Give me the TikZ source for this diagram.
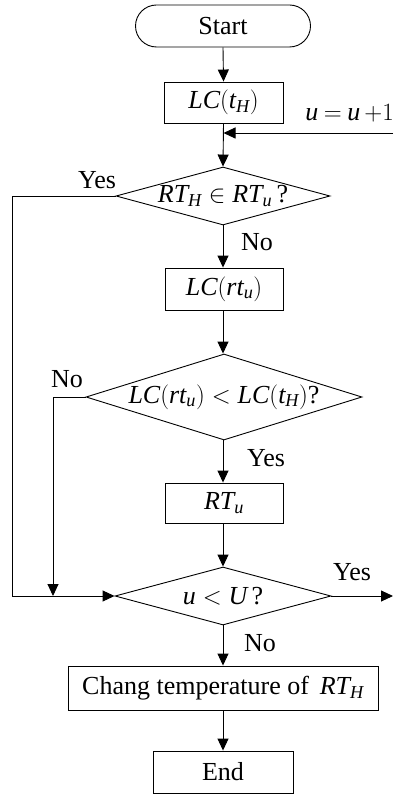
\documentclass[tikz,border=0pt]{standalone}
\usepackage{amsmath}
\usepackage{fontspec}
\setmainfont{Liberation Serif}
\usetikzlibrary{shapes.geometric,shapes.misc,arrows.meta}
\newcommand{\vv}[1]{\textit{#1}}
\tikzset{
  box/.style={draw,rectangle,inner sep=0pt,line width=0.9pt},
  term/.style={draw,rounded rectangle,inner sep=0pt,line width=0.9pt,minimum width=175pt,minimum height=42pt},
  dec/.style={draw,diamond,inner sep=0pt,line width=0.9pt},
  conn/.style={line width=0.9pt,-{Triangle[length=12pt,width=11pt]}},
  lbl/.style={inner sep=0pt}
}
\begin{document}
\begin{tikzpicture}[x=1pt,y=-1pt,font=\fontsize{26}{31}\selectfont]
\useasboundingbox (0,0) rectangle (393,794);
\node[term] (start) at (223,26) {Start};
\node[box,minimum width=119pt,minimum height=41pt] (lc1) at (223.5,102.5) {$\vv{LC}(\vv{t}_{\vv{H}})$};
\node[dec,minimum width=214pt,minimum height=58pt,label={center:$\vv{RT}_{\vv{H}}\in\vv{RT}_{\vv{u}}$\,?}] (d1) at (223,196) {};
\node[box,minimum width=118pt,minimum height=42pt] (lc2) at (224,289) {$\vv{LC}(\vv{rt}_{\vv{u}})$};
\node[dec,minimum width=276pt,minimum height=86pt,label={center:$\vv{LC}(\vv{rt}_{\vv{u}})<\vv{LC}(\vv{t}_{\vv{H}})$?}] (d2) at (224,397) {};
\node[box,minimum width=118pt,minimum height=40pt] (rt) at (224,503) {$\vv{RT}_{\vv{u}}$};
\node[dec,minimum width=216pt,minimum height=58pt,label={center:$\vv{u}<\vv{U}\,$?}] (d4) at (223,596) {};
\node[box,minimum width=310pt,minimum height=44pt] (chg) at (223,688) {Chang temperature of\, $\vv{RT}_{\vv{H}}$};
\node[box,minimum width=140pt,minimum height=42pt] (end) at (223,772) {End};

\node[lbl,anchor=east] (uinc) at (394,113) {$\vv{u}\mskip4mu{=}\mskip4mu\vv{u}\mskip3mu{+}1$};
\node[lbl] (yes1) at (97,180) {Yes};
\node[lbl] (no1) at (257,242) {No};
\node[lbl] (no2) at (67,379) {No};
\node[lbl] (yes2) at (266,458) {Yes};
\node[lbl] (yes3) at (352,572) {Yes};
\node[lbl] (no3) at (260,643) {No};

\coordinate (inR) at (393,133);
\coordinate (inJ) at (223.5,133);
\coordinate (l1) at (12,196);
\coordinate (l1b) at (12,596);
\coordinate (l2) at (53,397);
\coordinate (l2b) at (53,596);
\coordinate (outR) at (393,596);

\draw[conn] (start.south) -- (lc1.north);
\draw[conn] (lc1.south) -- (d1.north);
\draw[conn] (inR) -- (inJ);
\draw[conn] (d1.west) -- (l1) -- (l1b) -- (d4.west);
\draw[conn] (d1.south) -- (lc2.north -| d1.south);
\draw[conn] (lc2.south -| d1.south) -- (d2.north -| d1.south);
\draw[conn] (d2.west) -- (l2) -- (l2b);
\draw[conn] (d2.south -| d1.south) -- (rt.north -| d1.south);
\draw[conn] (rt.south -| d1.south) -- (d4.north);
\draw[conn] (d4.east) -- (outR);
\draw[conn] (d4.south) -- (chg.north);
\draw[conn] (chg.south) -- (end.north);
\end{tikzpicture}
\end{document}
